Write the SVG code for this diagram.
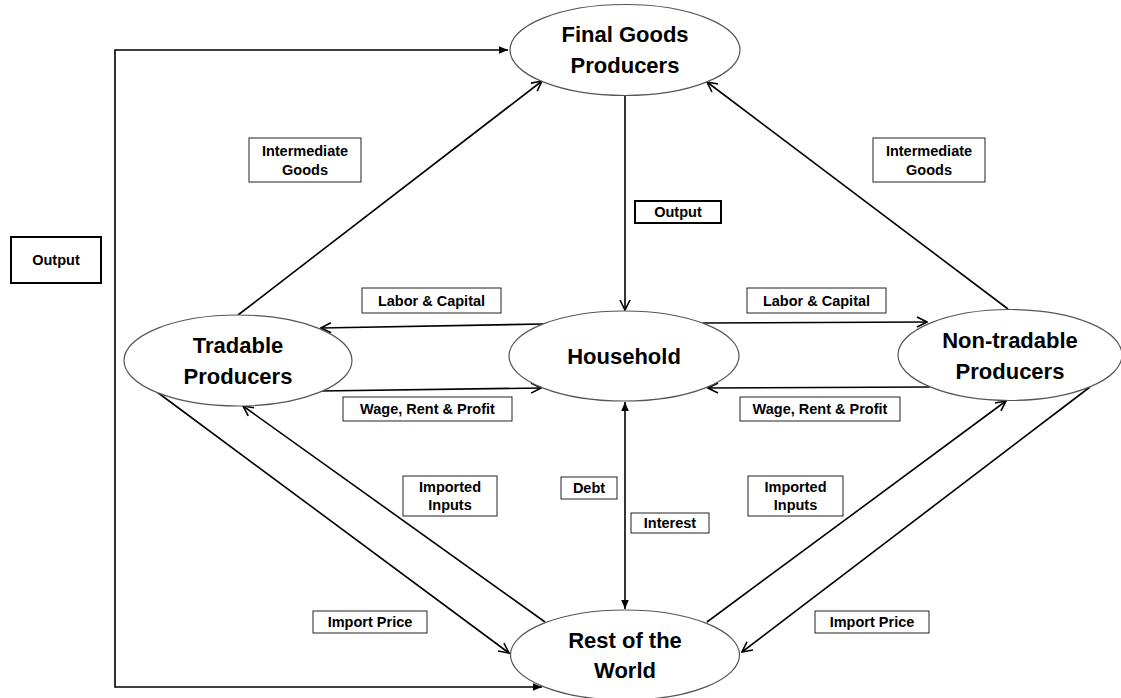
<svg xmlns="http://www.w3.org/2000/svg" width="1121" height="698" viewBox="0 0 1121 698">
<style>
.node{fill:#fff;stroke:#555;stroke-width:1.2}
.nt{font-family:"Liberation Sans",Arial,sans-serif;font-weight:bold;font-size:22px;fill:#000;text-anchor:middle}
.box{fill:#fff;stroke:#222;stroke-width:1}
.box2{fill:#fff;stroke:#000;stroke-width:2}
.lt{font-family:"Liberation Sans",Arial,sans-serif;font-weight:bold;font-size:14.5px;fill:#000;text-anchor:middle}
.c{fill:none;stroke:#000;stroke-width:1.6}
.o{marker-end:url(#open)}
</style>
<defs>
<marker id="open" viewBox="0 0 12 12" refX="11" refY="6" markerWidth="12" markerHeight="12" markerUnits="userSpaceOnUse" orient="auto-start-reverse"><path d="M1,1 L11,6 L1,11" fill="none" stroke="#000" stroke-width="1.6"/></marker>
<marker id="fill" viewBox="0 0 10 10" refX="10" refY="5" markerWidth="9" markerHeight="9" markerUnits="userSpaceOnUse" orient="auto-start-reverse"><path d="M0,0.8 L10,5 L0,9.2 z" fill="#000"/></marker>
</defs>
<g id="connectors">
<path class="c" d="M508,50 H115 V687 H542" stroke-width="2" marker-start="url(#fill)" marker-end="url(#fill)"/>
<path class="c o" d="M625,96 V310"/>
<path class="c" d="M625,402 V609" marker-start="url(#fill)" marker-end="url(#fill)"/>
<path class="c o" d="M543,324 L321,328"/>
<path class="c o" d="M320,391 L541,388"/>
<path class="c o" d="M703,323 L927,322"/>
<path class="c o" d="M930,387 L708,388"/>
<path class="c o" d="M238,315 L542,81"/>
<path class="c o" d="M1008,309 L707,82"/>
<path class="c o" d="M157,392 L509,653"/>
<path class="c o" d="M545,622 L243,406"/>
<path class="c o" d="M707,622 L1006,401"/>
<path class="c o" d="M1090,387 L742,652"/>
</g>
<g id="final-goods"><ellipse class="node" cx="625" cy="50" rx="115" ry="45.5"/><text class="nt" x="625" y="42">Final Goods</text><text class="nt" x="625" y="73">Producers</text></g>
<g id="household"><ellipse class="node" cx="624" cy="356" rx="115" ry="45"/><text class="nt" x="624" y="364">Household</text></g>
<g id="tradable"><ellipse class="node" cx="238" cy="360.5" rx="114" ry="45.5"/><text class="nt" x="238" y="353">Tradable</text><text class="nt" x="238" y="384">Producers</text></g>
<g id="non-tradable"><ellipse class="node" cx="1010" cy="355" rx="112" ry="45.5"/><text class="nt" x="1010" y="348">Non-tradable</text><text class="nt" x="1010" y="379">Producers</text></g>
<g id="rest-of-world"><ellipse class="node" cx="625" cy="655" rx="114.5" ry="45"/><text class="nt" x="625" y="648">Rest of the</text><text class="nt" x="625" y="678">World</text></g>
<g id="labels">
<g id="lbl-int-left"><rect class="box" x="249" y="138" width="112" height="44"/><text class="lt" x="305" y="156">Intermediate</text><text class="lt" x="305" y="175">Goods</text></g>
<g id="lbl-int-right"><rect class="box" x="873" y="138" width="112" height="44"/><text class="lt" x="929" y="156">Intermediate</text><text class="lt" x="929" y="175">Goods</text></g>
<g id="lbl-output-center"><rect class="box2" x="635" y="201" width="86" height="22"/><text class="lt" x="678" y="217">Output</text></g>
<g id="lbl-output-left"><rect class="box2" x="11" y="237" width="90" height="46"/><text class="lt" x="56" y="265">Output</text></g>
<g id="lbl-labor-left"><rect class="box" x="362" y="288" width="139" height="25"/><text class="lt" x="431.5" y="305.5">Labor &amp; Capital</text></g>
<g id="lbl-wage-left"><rect class="box" x="343" y="397" width="169" height="24"/><text class="lt" x="427.5" y="414">Wage, Rent &amp; Profit</text></g>
<g id="lbl-labor-right"><rect class="box" x="747" y="288" width="139" height="25"/><text class="lt" x="816.5" y="305.5">Labor &amp; Capital</text></g>
<g id="lbl-wage-right"><rect class="box" x="740" y="397" width="160" height="24"/><text class="lt" x="820" y="414">Wage, Rent &amp; Profit</text></g>
<g id="lbl-imported-left"><rect class="box" x="403" y="476" width="94" height="40"/><text class="lt" x="450" y="492">Imported</text><text class="lt" x="450" y="510">Inputs</text></g>
<g id="lbl-debt"><rect class="box" x="561" y="477" width="56" height="22"/><text class="lt" x="589" y="493">Debt</text></g>
<g id="lbl-interest"><rect class="box" x="631" y="513" width="78" height="20"/><text class="lt" x="670" y="528">Interest</text></g>
<g id="lbl-imported-right"><rect class="box" x="748" y="476" width="95" height="40"/><text class="lt" x="795.5" y="492">Imported</text><text class="lt" x="795.5" y="510">Inputs</text></g>
<g id="lbl-importprice-left"><rect class="box" x="313" y="611" width="114" height="22"/><text class="lt" x="370" y="627">Import Price</text></g>
<g id="lbl-importprice-right"><rect class="box" x="815" y="611" width="114" height="22"/><text class="lt" x="872" y="627">Import Price</text></g>
</g>
</svg>
